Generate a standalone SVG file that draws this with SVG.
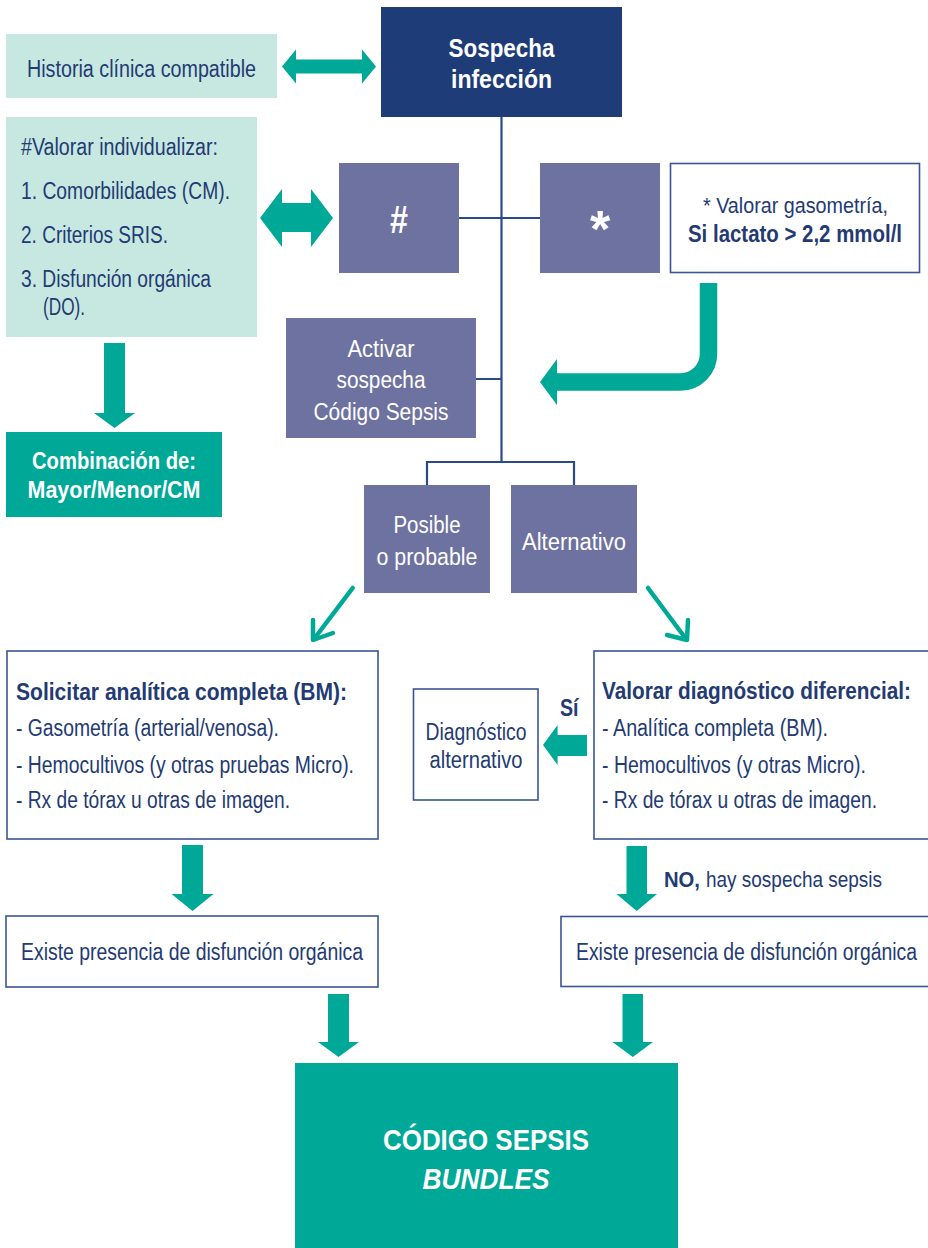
<svg xmlns="http://www.w3.org/2000/svg" width="928" height="1248" viewBox="0 0 928 1248">
  <style>
    .t { font-family: "Liberation Sans", Arial, sans-serif; font-size: 23.5px; fill: #233a73; }
    .w { fill: #ffffff; }
    .b { font-weight: bold; }
    .mid { text-anchor: middle; }
    .s22 { font-size: 22.5px; }
    .s26 { font-size: 26px; }
    .s30 { font-size: 30px; }
    .pale { fill: #c7e8e1; }
    .navy { fill: #1e3c78; }
    .slate { fill: #6e72a0; }
    .teal { fill: #00a897; }
    .outline { fill: #ffffff; stroke: #3a5594; stroke-width: 1.6; }
    .link { stroke: #2b4a8b; stroke-width: 2.2; fill: none; }
    .thin { stroke: #00a897; stroke-width: 4.5; fill: none; stroke-linecap: round; stroke-linejoin: round; }
  </style>

  <!-- connector lines and arrows -->
  <g id="connectors">
    <path class="link" d="M501.5,117 V462 M459,218 H540 M476,379 H501.5 M427,462 H574 M427,461 V485 M574,461 V485"/>
    <!-- double arrows -->
    <polygon class="teal" points="282,66.5 296,49.5 296,59.5 362,59.5 362,49.5 376,66.5 362,83.5 362,73.5 296,73.5 296,83.5"/>
    <polygon class="teal" points="260,218 282,189 282,203 311,203 311,189 333,218 311,247 311,232 282,232 282,247"/>
    <!-- down arrow to combination box -->
    <polygon class="teal" points="104,343 125,343 125,413 135,413 114.5,428 94,413 104,413"/>
    <!-- bent arrow from lactate box -->
    <path d="M708.5,283 V354 A28,28 0 0 1 680.5,382 H556" fill="none" stroke="#00a897" stroke-width="17.5"/>
    <polygon class="teal" points="540,382 557,359 557,405"/>
    <!-- diagonal arrows -->
    <line class="thin" x1="352.7" y1="588" x2="314" y2="639"/>
    <polyline class="thin" points="313,620 313,640 333,633"/>
    <line class="thin" x1="648" y1="588" x2="686" y2="639"/>
    <polyline class="thin" points="667,635 687,640 688,620"/>
    <!-- Sí arrow -->
    <polygon class="teal" points="587,735 587,756 557.6,756 557.6,765 543,745 557.6,725 557.6,735"/>
    <!-- down arrows -->
    <polygon class="teal" points="182,845 203,845 203,894 213.5,894 192.5,911 171.5,894 182,894"/>
    <polygon class="teal" points="626.5,846 647,846 647,894 657,894 636.7,911 616.5,894 626.5,894"/>
    <polygon class="teal" points="328,994 349,994 349,1042 359,1042 338.5,1057 318,1042 328,1042"/>
    <polygon class="teal" points="622.5,994 643,994 643,1042 653,1042 632.8,1057 612.5,1042 622.5,1042"/>
  </g>

  <g id="historia">
    <rect class="pale" x="6" y="34" width="271" height="64"/>
    <text class="t" x="27" y="76.5" textLength="229" lengthAdjust="spacingAndGlyphs">Historia clínica compatible</text>
  </g>

  <g id="sospecha">
    <rect class="navy" x="381" y="7" width="241" height="110"/>
    <text class="t w b mid s26" x="501.5" y="57" textLength="106" lengthAdjust="spacingAndGlyphs">Sospecha</text>
    <text class="t w b mid s26" x="501.5" y="88" textLength="101" lengthAdjust="spacingAndGlyphs">infección</text>
  </g>

  <g id="valorar-individualizar">
    <rect class="pale" x="6" y="117" width="251" height="220"/>
    <text class="t" x="21" y="155" textLength="197" lengthAdjust="spacingAndGlyphs">#Valorar individualizar:</text>
    <text class="t" x="21" y="199" textLength="209" lengthAdjust="spacingAndGlyphs">1. Comorbilidades (CM).</text>
    <text class="t" x="21" y="243" textLength="147" lengthAdjust="spacingAndGlyphs">2. Criterios SRIS.</text>
    <text class="t" x="21" y="287" textLength="190" lengthAdjust="spacingAndGlyphs">3. Disfunción orgánica</text>
    <text class="t" x="43" y="315" textLength="42" lengthAdjust="spacingAndGlyphs">(DO).</text>
  </g>

  <g id="hash">
    <rect class="slate" x="339" y="163" width="120" height="110"/>
    <text class="t w b mid" style="font-size:38px" x="399" y="233" textLength="18" lengthAdjust="spacingAndGlyphs">#</text>
  </g>

  <g id="asterisk">
    <rect class="slate" x="540" y="163" width="120" height="110"/>
    <text class="t w b mid" style="font-size:52px" x="600" y="247">*</text>
  </g>

  <g id="gasometria">
    <rect class="outline" x="670.5" y="163.5" width="249" height="109"/>
    <text class="t mid s22" x="795.5" y="213" textLength="185" lengthAdjust="spacingAndGlyphs">* Valorar gasometría,</text>
    <text class="t b mid" x="795" y="242" textLength="214" lengthAdjust="spacingAndGlyphs">Si lactato &gt; 2,2 mmol/l</text>
  </g>

  <g id="activar">
    <rect class="slate" x="286" y="318" width="190" height="120"/>
    <text class="t w mid" x="381" y="357" textLength="67" lengthAdjust="spacingAndGlyphs">Activar</text>
    <text class="t w mid" x="381" y="388" textLength="89" lengthAdjust="spacingAndGlyphs">sospecha</text>
    <text class="t w mid" x="381" y="420" textLength="135" lengthAdjust="spacingAndGlyphs">Código Sepsis</text>
  </g>

  <g id="combinacion">
    <rect class="teal" x="6" y="432" width="216" height="85"/>
    <text class="t w b mid" x="114" y="469" textLength="164" lengthAdjust="spacingAndGlyphs">Combinación de:</text>
    <text class="t w b mid" x="114" y="498" textLength="173" lengthAdjust="spacingAndGlyphs">Mayor/Menor/CM</text>
  </g>

  <g id="posible">
    <rect class="slate" x="364" y="485" width="126" height="108"/>
    <text class="t w mid" x="427" y="533" textLength="67" lengthAdjust="spacingAndGlyphs">Posible</text>
    <text class="t w mid" x="427" y="565" textLength="101" lengthAdjust="spacingAndGlyphs">o probable</text>
  </g>

  <g id="alternativo">
    <rect class="slate" x="511" y="485" width="126" height="108"/>
    <text class="t w mid" x="574" y="550" textLength="104" lengthAdjust="spacingAndGlyphs">Alternativo</text>
  </g>

  <g id="solicitar">
    <rect class="outline" x="7" y="651" width="371" height="188"/>
    <text class="t b" x="16" y="700" textLength="331" lengthAdjust="spacingAndGlyphs">Solicitar analítica completa (BM):</text>
    <text class="t" x="16" y="736" textLength="263" lengthAdjust="spacingAndGlyphs">- Gasometría (arterial/venosa).</text>
    <text class="t" x="16" y="773" textLength="338" lengthAdjust="spacingAndGlyphs">- Hemocultivos (y otras pruebas Micro).</text>
    <text class="t" x="16" y="808" textLength="274" lengthAdjust="spacingAndGlyphs">- Rx de tórax u otras de imagen.</text>
  </g>

  <g id="diagnostico-alternativo">
    <rect class="outline" x="413.5" y="689" width="124.5" height="111"/>
    <text class="t mid" x="476" y="740" textLength="101" lengthAdjust="spacingAndGlyphs">Diagnóstico</text>
    <text class="t mid" x="476" y="768" textLength="93" lengthAdjust="spacingAndGlyphs">alternativo</text>
  </g>

  <g id="si-label">
    <text class="t b" x="560" y="716" textLength="18.5" lengthAdjust="spacingAndGlyphs">Sí</text>
  </g>

  <g id="valorar-diagnostico">
    <rect class="outline" x="594" y="651" width="345" height="188"/>
    <text class="t b" x="602" y="699" textLength="309" lengthAdjust="spacingAndGlyphs">Valorar diagnóstico diferencial:</text>
    <text class="t" x="602" y="736" textLength="226" lengthAdjust="spacingAndGlyphs">- Analítica completa (BM).</text>
    <text class="t" x="602" y="773" textLength="264" lengthAdjust="spacingAndGlyphs">- Hemocultivos (y otras Micro).</text>
    <text class="t" x="602" y="808" textLength="275" lengthAdjust="spacingAndGlyphs">- Rx de tórax u otras de imagen.</text>
  </g>

  <g id="no-label">
    <text class="t b s22" x="664" y="887" textLength="36" lengthAdjust="spacingAndGlyphs">NO,</text>
    <text class="t s22" x="706" y="887" textLength="176" lengthAdjust="spacingAndGlyphs">hay sospecha sepsis</text>
  </g>

  <g id="disfuncion-izq">
    <rect class="outline" x="6" y="916" width="372" height="71"/>
    <text class="t mid" x="192" y="960" textLength="342" lengthAdjust="spacingAndGlyphs">Existe presencia de disfunción orgánica</text>
  </g>

  <g id="disfuncion-der">
    <rect class="outline" x="561" y="916.5" width="380" height="70"/>
    <text class="t mid" x="746.5" y="960" textLength="341" lengthAdjust="spacingAndGlyphs">Existe presencia de disfunción orgánica</text>
  </g>

  <g id="codigo-sepsis">
    <rect class="teal" x="295" y="1063" width="383" height="190"/>
    <text class="t w b mid s30" x="486" y="1150" textLength="206" lengthAdjust="spacingAndGlyphs">CÓDIGO SEPSIS</text>
    <text class="t w b mid s30" style="font-style:italic" x="486" y="1189" textLength="127" lengthAdjust="spacingAndGlyphs">BUNDLES</text>
  </g>
</svg>
